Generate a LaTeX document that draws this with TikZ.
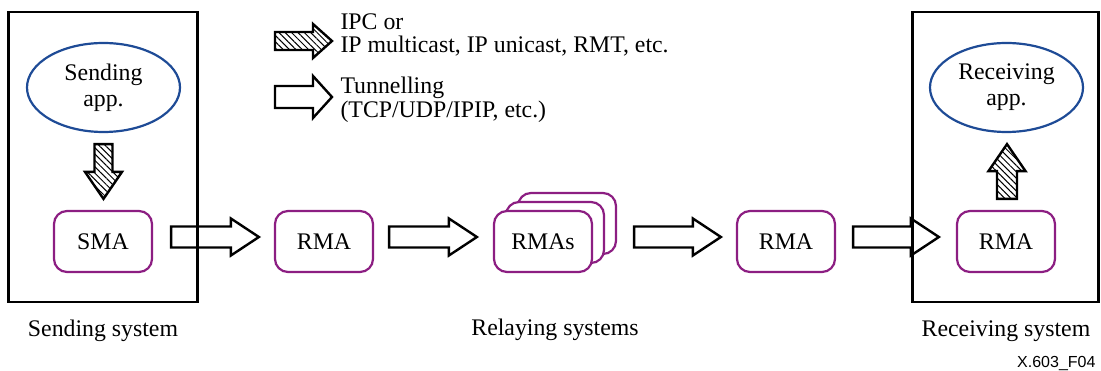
\documentclass[tikz,border=0pt]{standalone}
\usepackage{fontspec}
\setmainfont{Liberation Serif}
\newfontfamily\figsans{Liberation Sans}
\usetikzlibrary{calc,shapes.geometric,patterns.meta}
\definecolor{agentpurple}{RGB}{140,30,130}
\definecolor{appblue}{RGB}{30,75,150}

\tikzset{
  system/.style={draw,line width=2.3pt,minimum width=189pt,minimum height=290pt,inner sep=0pt},
  agent/.style={draw=agentpurple,line width=2.2pt,rounded corners=13pt,fill=white,
                minimum width=98pt,minimum height=61pt,inner sep=0pt},
  app/.style={draw=appblue,ellipse,line width=2.2pt,minimum width=153pt,minimum height=89pt,
              inner sep=0pt,align=center,font=\fontsize{23.8}{26}\selectfont},
  caption/.style={anchor=base},
  legendtext/.style={anchor=base west},
  blockline/.style={draw,line width=2.4pt,line join=miter},
  hatched/.style={pattern={Lines[angle=-45,distance=4.5pt,line width=1pt]}},
  % rightward block arrow: shaft half-width, head half-width, head length
  hblock/.style n args={3}{blockline,to path={
    ($(\tikztostart)+(0,-#1)$) -- ($(\tikztotarget)+(-#3,-#1)$) -- ($(\tikztotarget)+(-#3,-#2)$)
    -- (\tikztotarget) -- ($(\tikztotarget)+(-#3,#2)$) -- ($(\tikztotarget)+(-#3,#1)$)
    -- ($(\tikztostart)+(0,#1)$) -- cycle}},
  % vertical block arrow: shaft half-width, head half-width, signed head length
  vblock/.style n args={3}{blockline,to path={
    ($(\tikztostart)+(-#1,0)$) -- ($(\tikztotarget)+(-#1,#3)$) -- ($(\tikztotarget)+(-#2,#3)$)
    -- (\tikztotarget) -- ($(\tikztotarget)+(#2,#3)$) -- ($(\tikztotarget)+(#1,#3)$)
    -- ($(\tikztostart)+(#1,0)$) -- cycle}}
}

\begin{document}
\begin{tikzpicture}[x=1pt,y=-1pt,font=\fontsize{23.8}{26}\selectfont]
\useasboundingbox (0,0) rectangle (1101,371);

% end systems
\node[system] (sendsys) at (103,157) {};
\node[system,minimum width=186pt] (recvsys) at (1005.5,157) {};

% applications
\node[app] (sendapp) at (103.5,87.5) {Sending\\app.};
\node[app] (recvapp) at (1006.5,87.5) {Receiving\\app.};

% multicast agents
\node[agent] (sma) at (103,241.5) {SMA};
\node[agent] (rma1) at (324,241.5) {RMA};
\node[agent] (rmasc) at (567,223.5) {};
\node[agent] (rmasb) at (555,232.5) {};
\node[agent] (rmas) at (543,241.5) {RMAs};
\node[agent] (rma3) at (786,241.5) {RMA};
\node[agent] (rma4) at (1006,241.5) {RMA};

% end points of the block arrows
\coordinate (d1s) at ([shift={(0,11)}]sendapp.south);
\coordinate (d1x) at ([shift={(0,-11)}]sma.north);
\coordinate (d1e) at (d1s |- d1x);
\coordinate (u1s) at ([shift={(1,-11)}]rma4.north);
\coordinate (u1x) at ([shift={(0,11)}]recvapp.south);
\coordinate (u1e) at (u1s |- u1x);
\coordinate (a1s) at ([shift={(18,-4.5)}]sma.east);
\coordinate (a1e) at ([shift={(-15,-4.5)}]rma1.west);
\coordinate (a2s) at ([shift={(15,-4.5)}]rma1.east);
\coordinate (a2e) at ([shift={(-16,-4.5)}]rmas.west);
\coordinate (a3s) at ([shift={(41,-4.5)}]rmas.east);
\coordinate (a3e) at ([shift={(-15,-4.5)}]rma3.west);
\coordinate (a4s) at ([shift={(17,-4.5)}]rma3.east);
\coordinate (a4e) at ([shift={(-17,-4.5)}]rma4.west);

% IPC arrows inside the end systems
\draw[vblock={9}{18.5}{-27},hatched] (d1s) to (d1e);
\draw[vblock={10}{18.5}{27},hatched] (u1s) to (u1e);

% tunnels between agents
\draw[hblock={10.5}{18.5}{28}] (a1s) to (a1e);
\draw[hblock={10.5}{18.5}{28}] (a2s) to (a2e);
\draw[hblock={10.5}{18.5}{28}] (a3s) to (a3e);
\draw[hblock={10.5}{18.5}{28}] (a4s) to (a4e);

% legend
\coordinate (k1s) at (275,41);
\coordinate (k1e) at (332,41);
\coordinate (k2s) at (275,97);
\coordinate (k2e) at (332,97);
\draw[hblock={9}{17}{19},hatched] (k1s) to (k1e);
\draw[hblock={11}{21}{19}] (k2s) to (k2e);
\node[legendtext] (k1a) at (337,30) {IPC or};
\node[legendtext] (k1b) at (337,53) {IP multicast, IP unicast, RMT, etc.};
\node[legendtext] (k2a) at (337,94) {Tunnelling};
\node[legendtext] (k2b) at (337,118) {(TCP/UDP/IPIP, etc.)};

% captions
\node[caption] (capsend) at (103,337) {Sending system};
\node[caption] (caprelay) at (555,336) {Relaying systems};
\node[caption] (caprecv) at (1006,337) {Receiving system};
\node[anchor=base east,font=\figsans\fontsize{16}{18}\selectfont] (figid) at (1099,368) {X.603\_F04};
\end{tikzpicture}
\end{document}
